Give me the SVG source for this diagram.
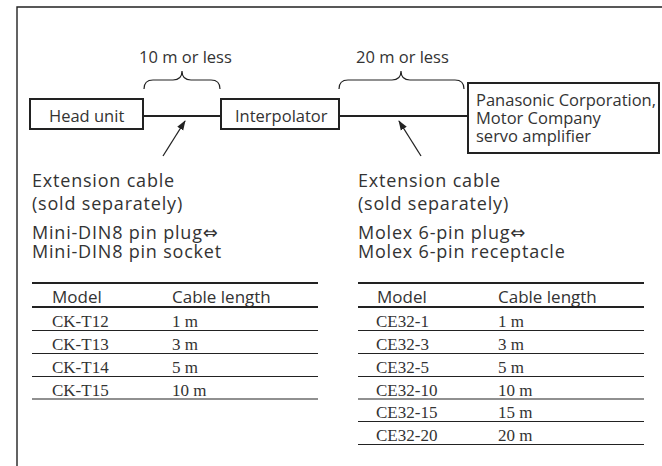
<svg xmlns="http://www.w3.org/2000/svg" width="662" height="466" viewBox="0 0 662 466">
<defs>
<style>
.t{font-family:"Open Sans","Liberation Sans",sans-serif;fill:#333;}
.s{font-size:16.5px;}
.b{font-size:18px;letter-spacing:0.8px;}
.h{font-size:17px;}
.sym{font-family:"DejaVu Sans",sans-serif;letter-spacing:0;}
.r{font-family:"Liberation Serif","Times New Roman",serif;font-size:17px;fill:#333;}
.box{fill:#fff;stroke:#222;stroke-width:2;}
.ln{stroke:#222;fill:none;}
</style>
<marker id="ah" markerWidth="10" markerHeight="8" refX="9" refY="4" orient="auto" markerUnits="userSpaceOnUse">
<path d="M0,0.5 L10,4 L0,7.5 Z" fill="#222"/>
</marker>
</defs>
<rect width="662" height="466" fill="#fff"/>
<g id="frame">
<path d="M17,466 V7 H662" class="ln" stroke-width="1.4"/>
</g>
<g id="connectors">
<line x1="143" y1="116" x2="221" y2="116" class="ln" stroke-width="2.2"/>
<line x1="339" y1="116" x2="468" y2="116" class="ln" stroke-width="2.2"/>
<line x1="163" y1="156" x2="185" y2="121" class="ln" stroke-width="1.3" marker-end="url(#ah)"/>
<line x1="421" y1="156" x2="399" y2="121" class="ln" stroke-width="1.3" marker-end="url(#ah)"/>
<path d="M144,89 Q144,80 153,80 L173,80 Q182,80 182,71 Q182,80 191,80 L211,80 Q220,80 220,89" class="ln" stroke-width="1.2"/>
<path d="M339,89 Q339,80 348,80 L392,80 Q401,80 401,71 Q401,80 410,80 L455,80 Q464,80 464,89" class="ln" stroke-width="1.2"/>
<text x="139" y="63" class="t s">10 m or less</text>
<text x="356" y="63" class="t s">20 m or less</text>
</g>
<g id="head-unit">
<rect x="30" y="99" width="113" height="30" class="box"/>
<text x="49" y="122" class="t s">Head unit</text>
</g>
<g id="interpolator">
<rect x="221" y="99" width="118" height="30" class="box"/>
<text x="235" y="122" class="t s">Interpolator</text>
</g>
<g id="servo-amplifier">
<rect x="468" y="83" width="191" height="70" class="box"/>
<text x="476" y="106" class="t s">Panasonic Corporation,</text>
<text x="476" y="124" class="t s">Motor Company</text>
<text x="476" y="142" class="t s">servo amplifier</text>
</g>
<g id="cable-left">
<text x="32" y="187" class="t b">Extension cable</text>
<text x="32" y="210" class="t b">(sold separately)</text>
<text x="32" y="239" class="t b">Mini-DIN8 pin plug<tspan class="sym">⇔</tspan></text>
<text x="32" y="258" class="t b">Mini-DIN8 pin socket</text>
</g>
<g id="cable-right">
<text x="358" y="187" class="t b">Extension cable</text>
<text x="358" y="210" class="t b">(sold separately)</text>
<text x="358" y="239" class="t b">Molex 6-pin plug<tspan class="sym">⇔</tspan></text>
<text x="358" y="258" class="t b">Molex 6-pin receptacle</text>
</g>
<g id="table-left">
<line x1="32" y1="283" x2="318" y2="283" class="ln" stroke-width="2"/>
<text x="52" y="303" class="t h">Model</text>
<text x="172" y="303" class="t h">Cable length</text>
<line x1="32" y1="307" x2="318" y2="307" class="ln" stroke-width="2"/>
<text x="52" y="327" class="r">CK-T12</text><text x="172" y="327" class="r">1 m</text>
<line x1="32" y1="330.5" x2="318" y2="330.5" class="ln" stroke-width="1.1"/>
<text x="52" y="350" class="r">CK-T13</text><text x="172" y="350" class="r">3 m</text>
<line x1="32" y1="353.5" x2="318" y2="353.5" class="ln" stroke-width="1.1"/>
<text x="52" y="373" class="r">CK-T14</text><text x="172" y="373" class="r">5 m</text>
<line x1="32" y1="376.5" x2="318" y2="376.5" class="ln" stroke-width="1.1"/>
<text x="52" y="395.5" class="r">CK-T15</text><text x="172" y="395.5" class="r">10 m</text>
<line x1="32" y1="399" x2="318" y2="399" class="ln" stroke-width="1.1"/>
</g>
<g id="table-right">
<line x1="358" y1="283" x2="644" y2="283" class="ln" stroke-width="2"/>
<text x="377" y="303" class="t h">Model</text>
<text x="498" y="303" class="t h">Cable length</text>
<line x1="358" y1="307" x2="644" y2="307" class="ln" stroke-width="2"/>
<text x="376" y="327" class="r">CE32-1</text><text x="498" y="327" class="r">1 m</text>
<line x1="358" y1="330.5" x2="644" y2="330.5" class="ln" stroke-width="1.1"/>
<text x="376" y="350" class="r">CE32-3</text><text x="498" y="350" class="r">3 m</text>
<line x1="358" y1="353.5" x2="644" y2="353.5" class="ln" stroke-width="1.1"/>
<text x="376" y="373" class="r">CE32-5</text><text x="498" y="373" class="r">5 m</text>
<line x1="358" y1="376.5" x2="644" y2="376.5" class="ln" stroke-width="1.1"/>
<text x="376" y="395.5" class="r">CE32-10</text><text x="498" y="395.5" class="r">10 m</text>
<line x1="358" y1="399" x2="644" y2="399" class="ln" stroke-width="1.1"/>
<text x="376" y="418" class="r">CE32-15</text><text x="498" y="418" class="r">15 m</text>
<line x1="358" y1="421.5" x2="644" y2="421.5" class="ln" stroke-width="1.1"/>
<text x="376" y="441" class="r">CE32-20</text><text x="498" y="441" class="r">20 m</text>
<line x1="358" y1="444.5" x2="644" y2="444.5" class="ln" stroke-width="1.1"/>
</g>
</svg>
